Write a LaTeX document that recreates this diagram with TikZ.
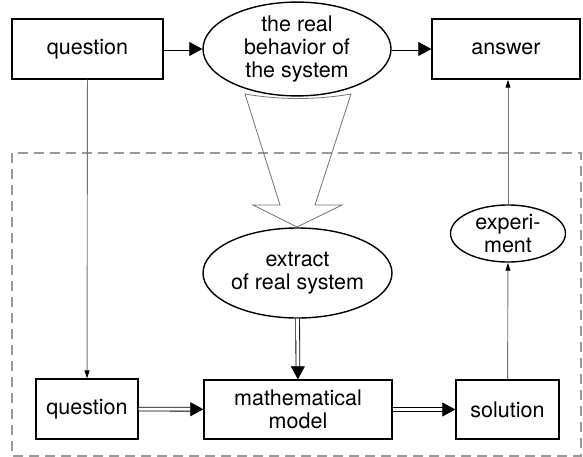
\documentclass[tikz,border=0pt]{standalone}
\usepackage{fontspec}
\setmainfont{TeX Gyre Heros}
\usetikzlibrary{shapes.geometric,arrows.meta}

\tikzset{
  box/.style={rectangle, draw, line width=1.4pt, inner sep=0pt, align=center},
  oval/.style={ellipse, draw, line width=1.4pt, inner sep=0pt, align=center},
  dblarrow/.style={double, double distance=3pt, line width=0.8pt, -{Triangle[length=13pt,width=14pt]}},
  thinarrow/.style={draw=black!55, line width=0.9pt, -{Triangle[length=8pt,width=5pt,black]}}
}

\begin{document}
\begin{tikzpicture}[x=1pt, y=-1pt, font=\fontsize{21.5}{23}\selectfont]
  \useasboundingbox (0,0) rectangle (583,457);

  % model area
  \draw[black!40, line width=1.4pt, dash pattern=on 10pt off 6pt] (12,153) rectangle (581,456);

  % upper level
  \node (question) [box, minimum width=151pt, minimum height=60pt] at (87.5,49) {question};
  \node (real) [oval, minimum width=188pt, minimum height=88pt] at (297,49) {the real\\behavior of\\the system};
  \node (answer) [box, minimum width=148pt, minimum height=60pt] at (506,49) {answer};

  % hollow arrow down into the model
  \draw[black!55, line width=0.8pt] (245,94) .. controls (280,100) and (316,100) .. (351,94)
    -- (315,205) -- (342,205) -- (297,227) -- (253,205) -- (280,205) -- cycle;

  % lower level
  \node (extract) [oval, minimum width=189pt, minimum height=90pt] at (297.5,273) {extract\\of real system};
  \node (experiment) [oval, minimum width=115pt, minimum height=57pt] at (508,233.5) {experi-\\ment};
  \node (question2) [box, minimum width=102pt, minimum height=60pt] at (87,409) {question};
  \node (model) [box, minimum width=188pt, minimum height=59pt] at (298,409.5) {mathematical\\model};
  \node (solution) [box, minimum width=103pt, minimum height=59pt] at (507.5,409.5) {solution};

  \draw[dblarrow] (question) -- (real);
  \draw[dblarrow] (real) -- (answer);
  \draw[dblarrow] (extract) -- (model);
  \draw[dblarrow] (question2) -- (model);
  \draw[dblarrow] (model) -- (solution);

  \draw[thinarrow] (question) -- (question2);
  \draw[thinarrow] (solution) -- (experiment);
  \draw[thinarrow] (experiment) -- (answer.south -| experiment);
\end{tikzpicture}
\end{document}
